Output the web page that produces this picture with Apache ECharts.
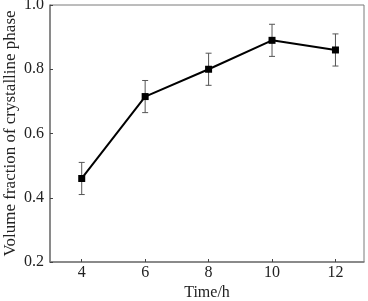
<!DOCTYPE html>
<html>
<head>
<meta charset="utf-8">
<script src="https://cdn.jsdelivr.net/npm/echarts@6/dist/echarts.min.js"></script>
<style>html,body{margin:0;padding:0;background:#fff;}#c{width:368px;height:301px;}</style>
</head>
<body>
<div id="c"></div>
<script>
var times = [4, 6, 8, 10, 12];
var fractions = [0.46, 0.715, 0.80, 0.89, 0.86];
var errors = [0.05, 0.05, 0.05, 0.05, 0.05];
var xTicks = [4, 6, 8, 10, 12];
var yTicks = [0.2, 0.4, 0.6, 0.8, 1.0];

var font = 'Liberation Serif';
var axisColor = '#7a7a7a';
var chart = echarts.init(document.getElementById('c'));
var pts = times.map(function (t, i) { return [t, fractions[i]]; });
var errData = times.map(function (t, i) { return [t, fractions[i] - errors[i], fractions[i] + errors[i]]; });

chart.setOption({
  animation: false,
  backgroundColor: '#fff',
  grid: { left: 50, right: 4, top: 5, bottom: 39, containLabel: false, outerBoundsMode: 'none', show: true, borderColor: axisColor, borderWidth: 1, backgroundColor: 'transparent' },
  xAxis: {
    type: 'value', min: 3, max: 12.9,
    name: 'Time/h', nameLocation: 'middle', nameGap: 23, nameMoveOverlap: false,
    nameTextStyle: { fontFamily: font, fontSize: 16, color: '#222' },
    axisLine: { lineStyle: { color: axisColor, width: 1.5 } },
    axisTick: { inside: true, length: 3, customValues: xTicks, lineStyle: { color: '#444' } },
    axisLabel: { customValues: xTicks, fontFamily: font, fontSize: 16, color: '#222', margin: 3 },
    splitLine: { show: false }
  },
  yAxis: {
    type: 'value', min: 0.2, max: 1.0, interval: 0.2,
    name: 'Volume fraction of crystalline phase', nameLocation: 'middle', nameGap: 31, nameMoveOverlap: false,
    nameTextStyle: { fontFamily: font, fontSize: 17, color: '#222' },
    axisLine: { show: true, lineStyle: { color: axisColor, width: 1.5 } },
    axisTick: { show: true, inside: true, length: 3, lineStyle: { color: '#444' } },
    axisLabel: { fontFamily: font, fontSize: 16, color: '#222', margin: 6, formatter: function (v) { return v.toFixed(1); } },
    splitLine: { show: false }
  },
  series: [
    {
      type: 'custom',
      data: errData,
      z: 1,
      renderItem: function (params, api) {
        var x = api.value(0);
        var lo = api.coord([x, api.value(1)]);
        var hi = api.coord([x, api.value(2)]);
        var w = 3;
        var st = { stroke: '#555', lineWidth: 1 };
        return { type: 'group', children: [
          { type: 'line', shape: { x1: lo[0], y1: lo[1], x2: hi[0], y2: hi[1] }, style: st },
          { type: 'line', shape: { x1: lo[0] - w, y1: lo[1], x2: lo[0] + w, y2: lo[1] }, style: st },
          { type: 'line', shape: { x1: hi[0] - w, y1: hi[1], x2: hi[0] + w, y2: hi[1] }, style: st }
        ] };
      }
    },
    {
      type: 'line',
      data: pts,
      z: 3,
      symbol: 'rect', symbolSize: 7,
      itemStyle: { color: '#000' },
      lineStyle: { color: '#000', width: 2 }
    }
  ]
});
</script>
</body>
</html>
